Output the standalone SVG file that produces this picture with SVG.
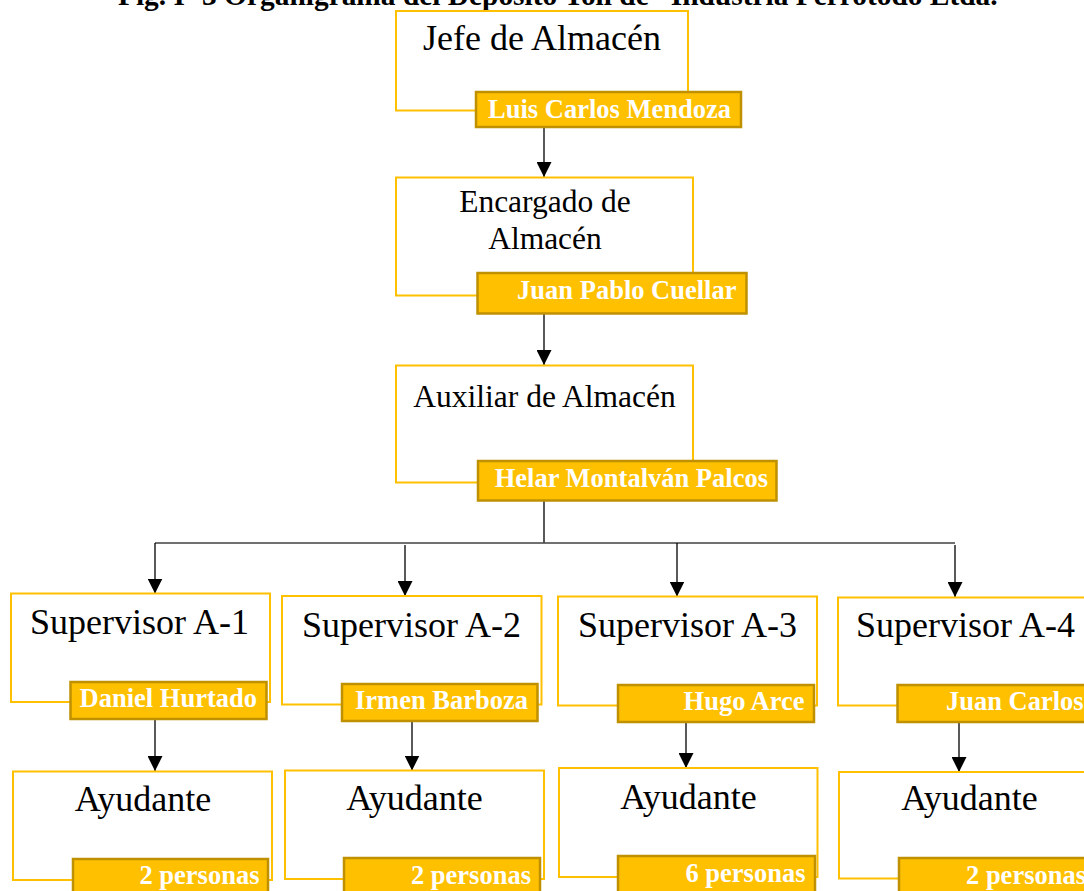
<svg xmlns="http://www.w3.org/2000/svg" width="1084" height="891" viewBox="0 0 1084 891">
<style>
.box{fill:#fff;stroke:#FFC000;stroke-width:2}
.tag{fill:#FFC000;stroke:#BF9000;stroke-width:2.5}
.ttl{font-family:"Liberation Serif","Times New Roman",serif;fill:#000}
.nm{font-family:"Liberation Serif","Times New Roman",serif;font-weight:bold;font-size:26.5px;fill:#fff}
.ln{stroke:#000;stroke-width:1.3;fill:none}
.bus{stroke:#404040;stroke-width:1.3;fill:none}
</style>
<defs>
<marker id="ah" viewBox="0 0 10 10" refX="10" refY="5" markerWidth="15" markerHeight="15" markerUnits="userSpaceOnUse" orient="auto">
<path d="M0,0 L10,5 L0,10 Z" fill="#000"/>
</marker>
</defs>
<rect width="1084" height="891" fill="#fff"/>
<text id="title" x="118" y="5" class="ttl" font-weight="bold" font-size="29.4">Fig. I- 3 Organigrama del Depósito Tolí de “Industria Ferrotodo Ltda.”</text>

<g id="connectors">
<line class="ln" x1="544" y1="127" x2="544" y2="177" marker-end="url(#ah)"/>
<line class="ln" x1="544" y1="314" x2="544" y2="365" marker-end="url(#ah)"/>
<line class="ln" x1="544" y1="501" x2="544" y2="543"/>
<line class="bus" x1="155" y1="543" x2="955" y2="543"/>
<line class="ln" x1="155" y1="543" x2="155" y2="593.5" marker-end="url(#ah)"/>
<line class="ln" x1="405" y1="545" x2="405" y2="596" marker-end="url(#ah)"/>
<line class="ln" x1="677" y1="543" x2="677" y2="596.5" marker-end="url(#ah)"/>
<line class="ln" x1="955" y1="545" x2="955" y2="597" marker-end="url(#ah)"/>
<line class="ln" x1="155" y1="719" x2="155" y2="771" marker-end="url(#ah)"/>
<line class="ln" x1="412" y1="721" x2="412" y2="770.5" marker-end="url(#ah)"/>
<line class="ln" x1="686" y1="722" x2="686" y2="768" marker-end="url(#ah)"/>
<line class="ln" x1="959" y1="722" x2="959" y2="772" marker-end="url(#ah)"/>
</g>

<g id="jefe">
<rect class="box" x="396" y="11" width="292" height="99.5"/>
<text class="ttl" x="542" y="50" font-size="36" text-anchor="middle">Jefe de Almacén</text>
<rect class="tag" x="476" y="92" width="265" height="35"/>
<text class="nm" x="731" y="117.5" text-anchor="end">Luis Carlos Mendoza</text>
</g>

<g id="encargado">
<rect class="box" x="396" y="177.5" width="297" height="118"/>
<text class="ttl" x="545" y="212" font-size="31.5" text-anchor="middle">Encargado de</text>
<text class="ttl" x="545" y="249" font-size="31.5" text-anchor="middle">Almacén</text>
<rect class="tag" x="477.5" y="273" width="269" height="40.5"/>
<text class="nm" x="736.5" y="298.5" text-anchor="end">Juan Pablo Cuellar</text>
</g>

<g id="auxiliar">
<rect class="box" x="396" y="365.5" width="297" height="117"/>
<text class="ttl" x="544.5" y="407" font-size="31.5" text-anchor="middle">Auxiliar de Almacén</text>
<rect class="tag" x="478" y="461" width="298.5" height="39.5"/>
<text class="nm" x="768" y="486.5" text-anchor="end">Helar Montalván Palcos</text>
</g>

<g id="supA1">
<rect class="box" x="11" y="593.5" width="259" height="108.5"/>
<text class="ttl" x="139.5" y="633.5" font-size="36" text-anchor="middle">Supervisor A-1</text>
<rect class="tag" x="70.5" y="682" width="196" height="37"/>
<text class="nm" x="257" y="706.5" text-anchor="end">Daniel Hurtado</text>
</g>

<g id="supA2">
<rect class="box" x="282" y="596" width="259.5" height="108.5"/>
<text class="ttl" x="411.5" y="636.5" font-size="36" text-anchor="middle">Supervisor A-2</text>
<rect class="tag" x="342" y="684" width="195.5" height="37"/>
<text class="nm" x="528" y="708.5" text-anchor="end">Irmen Barboza</text>
</g>

<g id="supA3">
<rect class="box" x="558" y="596.5" width="259" height="109"/>
<text class="ttl" x="687.5" y="637" font-size="36" text-anchor="middle">Supervisor A-3</text>
<rect class="tag" x="618" y="685" width="196" height="37"/>
<text class="nm" x="804.5" y="710" text-anchor="end">Hugo Arce</text>
</g>

<g id="supA4">
<rect class="box" x="838" y="597.5" width="259" height="108"/>
<text class="ttl" x="856" y="637" font-size="36">Supervisor A-4</text>
<rect class="tag" x="897.5" y="685" width="196" height="37"/>
<text class="nm" x="946" y="710">Juan Carlos</text>
</g>

<g id="ayu1">
<rect class="box" x="13" y="771.5" width="259" height="108.5"/>
<text class="ttl" x="143" y="811" font-size="36" text-anchor="middle">Ayudante</text>
<rect class="tag" x="73" y="859" width="195" height="37"/>
<text class="nm" x="259.5" y="884" text-anchor="end">2 personas</text>
</g>

<g id="ayu2">
<rect class="box" x="285" y="770.5" width="259" height="108.5"/>
<text class="ttl" x="414.5" y="810" font-size="36" text-anchor="middle">Ayudante</text>
<rect class="tag" x="344" y="858" width="196" height="37"/>
<text class="nm" x="531" y="884" text-anchor="end">2 personas</text>
</g>

<g id="ayu3">
<rect class="box" x="559" y="768" width="258.5" height="109"/>
<text class="ttl" x="688.5" y="808.5" font-size="36" text-anchor="middle">Ayudante</text>
<rect class="tag" x="618" y="856" width="197" height="37"/>
<text class="nm" x="805.5" y="882" text-anchor="end">6 personas</text>
</g>

<g id="ayu4">
<rect class="box" x="839" y="772" width="259" height="106.5"/>
<text class="ttl" x="969.5" y="810" font-size="36" text-anchor="middle">Ayudante</text>
<rect class="tag" x="899" y="858" width="196" height="37"/>
<text class="nm" x="966" y="884">2 personas</text>
</g>
</svg>
